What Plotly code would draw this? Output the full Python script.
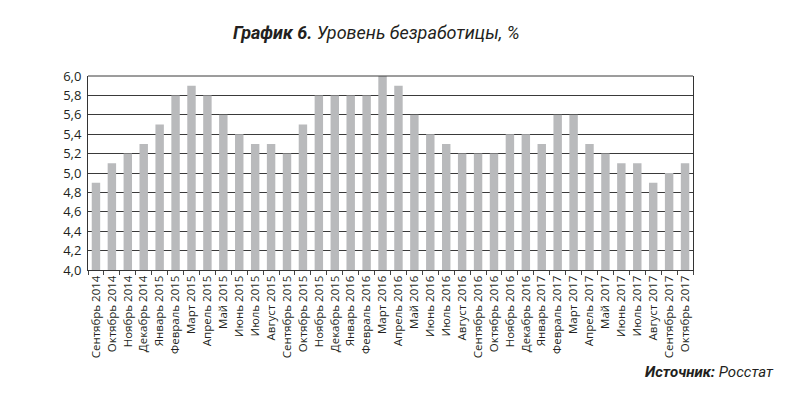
import plotly.graph_objects as go

months = ["Сентябрь 2014", "Октябрь 2014", "Ноябрь 2014", "Декабрь 2014",
          "Январь 2015", "Февраль 2015", "Март 2015", "Апрель 2015", "Май 2015",
          "Июнь 2015", "Июль 2015", "Август 2015", "Сентябрь 2015", "Октябрь 2015",
          "Ноябрь 2015", "Декабрь 2015", "Январь 2016", "Февраль 2016", "Март 2016",
          "Апрель 2016", "Май 2016", "Июнь 2016", "Июль 2016", "Август 2016",
          "Сентябрь 2016", "Октябрь 2016", "Ноябрь 2016", "Декабрь 2016",
          "Январь 2017", "Февраль 2017", "Март 2017", "Апрель 2017", "Май 2017",
          "Июнь 2017", "Июль 2017", "Август 2017", "Сентябрь 2017", "Октябрь 2017"]
unemployment = [4.9, 5.1, 5.2, 5.3, 5.5, 5.8, 5.9, 5.8, 5.6, 5.4, 5.3, 5.3, 5.2, 5.5,
                5.8, 5.8, 5.8, 5.8, 6.0, 5.9, 5.6, 5.4, 5.3, 5.2, 5.2, 5.2, 5.4, 5.4,
                5.3, 5.6, 5.6, 5.3, 5.2, 5.1, 5.1, 4.9, 5.0, 5.1]
y_ticks = [4.0, 4.2, 4.4, 4.6, 4.8, 5.0, 5.2, 5.4, 5.6, 5.8, 6.0]

font_fam = "Open Sans, Noto Sans, DejaVu Sans, sans-serif"
cond = "Liberation Sans Narrow, Roboto, Arial Narrow, sans-serif"

fig = go.Figure(go.Bar(
    x=months, y=unemployment,
    marker=dict(color="#b9babc", line=dict(width=0)),
    base=0,
))

fig.update_layout(
    width=800, height=395,
    margin=dict(l=80, r=115, t=68, b=133),
    paper_bgcolor="white", plot_bgcolor="white",
    separators=", ",
    bargap=0.47,
    showlegend=False,
    font=dict(family=font_fam, color="#231f20"),
)
fig.update_xaxes(
    type="category", automargin=False,
    tickangle=-90,
    tickfont=dict(size=11.5, family=font_fam, color="#231f20"),
    ticks="outside", ticklen=4, tickcolor="#444", tickson="boundaries",
    showline=True, linecolor="#333", linewidth=1,
    showgrid=False,
)
fig.update_yaxes(
    range=[4.0, 6.0], automargin=False,
    tickvals=y_ticks,
    tickformat=".1f",
    tickfont=dict(size=13, family=font_fam, color="#231f20"),
    ticklabelstandoff=3,
    showgrid=True, gridcolor="#3a3a3a", gridwidth=1,
    showline=True, linecolor="#333", linewidth=1, mirror=True,
    ticks="", zeroline=False,
)
fig.add_shape(type="line", xref="paper", yref="paper", x0=0, x1=1, y0=1, y1=1,
              line=dict(color="#3a3a3a", width=1))

fig.add_annotation(
    text="<b><i>График 6.</i></b> <i>Уровень безработицы, %</i>",
    xref="paper", yref="paper", x=(376-88)/605, y=1+(76-33)/194,
    xanchor="center", yanchor="middle", showarrow=False,
    font=dict(size=18, family=cond, color="#231f20"),
)
fig.add_annotation(
    text="<b><i>Источник:</i></b> <i>Росстат</i>",
    xref="paper", yref="paper", x=(776-88)/605, y=-(372-270)/194,
    xanchor="right", yanchor="middle", showarrow=False,
    font=dict(size=15, family=cond, color="#231f20"),
)

fig.write_html("out.html")
